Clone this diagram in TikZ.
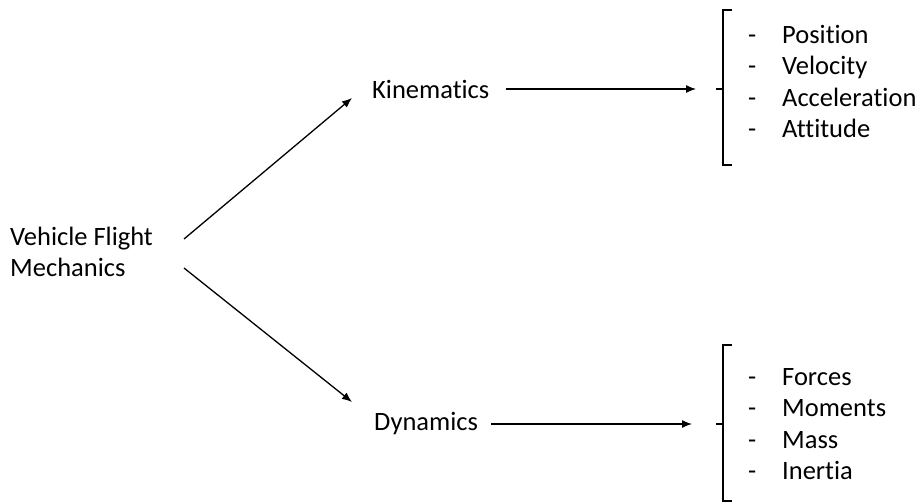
\documentclass[tikz,border=0pt]{standalone}
\usepackage{fontspec}
\setmainfont{Carlito}[Ligatures={NoCommon,NoContextual}]
\usetikzlibrary{arrows.meta}

\tikzset{
  arr/.style={line width=1.3pt, -{Latex[length=10pt,width=8pt]}},
  brk/.style={line width=1.3pt},
  txt/.style={anchor=west, inner sep=0pt, align=left}
}

\begin{document}
\begin{tikzpicture}[x=1pt,y=-1pt,font=\fontsize{26.5}{31.5}\selectfont]
\useasboundingbox (0,0) rectangle (917,503);

% left label and the two branches
\node[txt] (vfm) at (10,252) {Vehicle Flight\\Mechanics};
\node[txt] (kin) at (372,89) {Kinematics};
\node[txt] (dyn) at (374,424) {Dynamics};

\coordinate (vfm-up) at (184,239);
\coordinate (vfm-dn) at (184,268);
\coordinate (kin-in) at (352,98);
\coordinate (dyn-in) at (352,402);
\draw[arr] (vfm-up) -- (kin-in);
\draw[arr] (vfm-dn) -- (dyn-in);

% kinematics bracket
\coordinate (kin-br) at (716,89);
\draw[arr, shorten <=16pt, shorten >=20pt] (kin.east) -- (kin-br);
\draw[brk] (kin-br) -- (723,89) (732,10) -- (723,10) -- (723,165) -- (732,165);
\node[txt] (kinlist) at (748,84) {\begin{tabular}{@{}p{34pt}@{}l@{}}
  - & Position\\
  - & Velocity\\
  - & Acceleration\\
  - & Attitude
\end{tabular}};

% dynamics bracket
\coordinate (dyn-br) at (716,424);
\draw[arr, shorten <=13pt, shorten >=24pt] (dyn.east) -- (dyn-br);
\draw[brk] (dyn-br) -- (723,424) (732,345) -- (723,345) -- (723,501) -- (732,501);
\node[txt] (dynlist) at (748,426) {\begin{tabular}{@{}p{34pt}@{}l@{}}
  - & Forces\\
  - & Moments\\
  - & Mass\\
  - & Inertia
\end{tabular}};

\end{tikzpicture}
\end{document}
